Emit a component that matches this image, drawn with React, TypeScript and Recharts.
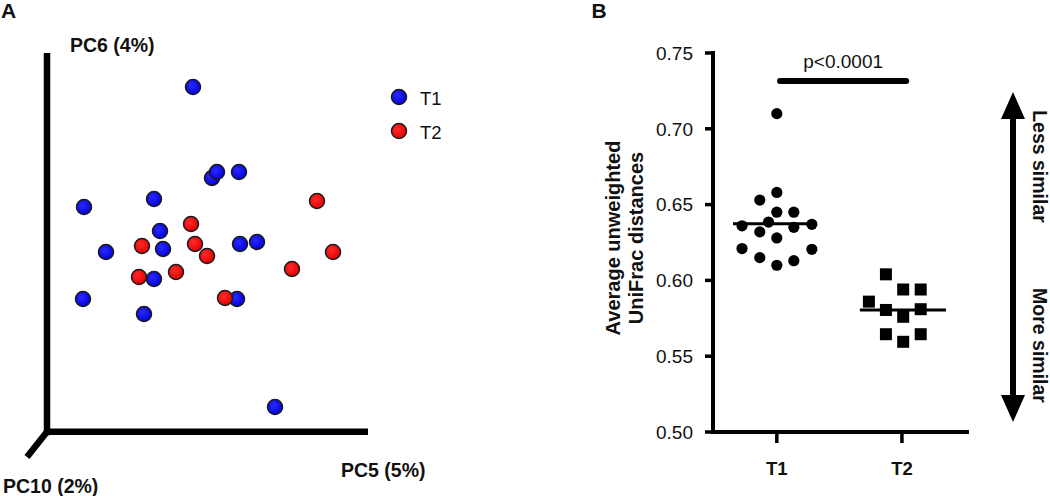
import React from 'react';
import { ScatterChart, Scatter, XAxis, YAxis, ReferenceLine, Legend } from 'recharts';

const FONT = '"Liberation Sans", Arial, Helvetica, sans-serif';

// ---------- Panel A: PCoA coordinates (PC5 horizontal, PC6 vertical) ----------
const t1PC5 = [-0.007, 0.012, 0.017, 0.039, -0.116, -0.046, -0.040, -0.094, -0.037, 0.040, 0.057, -0.046, -0.117, 0.037, -0.056, 0.075];
const t1PC6 = [0.163, 0.072, 0.078, 0.078, 0.043, 0.051, 0.019, -0.002, 0.001, 0.006, 0.008, -0.029, -0.049, -0.049, -0.064, -0.157];
const t2PC5 = [0.117, -0.009, -0.058, -0.005, 0.007, 0.133, -0.061, -0.024, 0.092, 0.025];
const t2PC6 = [0.049, 0.026, 0.004, 0.006, -0.006, -0.002, -0.027, -0.022, -0.019, -0.048];
const axisLabelsA = { pcY: 'PC6 (4%)', pcX: 'PC5 (5%)', pcZ: 'PC10 (2%)' };

// ---------- Panel B: average unweighted UniFrac distances ----------
const groups = ['T1', 'T2'];
const t1Distances = [0.710, 0.658, 0.653, 0.645, 0.645, 0.6385, 0.636, 0.637, 0.635, 0.632, 0.628, 0.621, 0.6205, 0.615, 0.610, 0.613];
const t1Jitter = [0, 0, -0.136, 0, 0.136, -0.066, -0.278, 0.28, 0.136, -0.136, 0, -0.278, 0.28, -0.136, 0, 0.136];
const t2Distances = [0.604, 0.594, 0.594, 0.586, 0.5805, 0.576, 0.581, 0.5645, 0.5595, 0.5645];
const t2Jitter = [-0.128, 0.01, 0.15, -0.264, -0.128, 0.01, 0.15, -0.128, 0.01, 0.15];
const yTicks = [0.5, 0.55, 0.6, 0.65, 0.7, 0.75];
const pLabel = 'p<0.0001';
const sigY = 0.7315;

const mean = (a: number[]) => a.reduce((s, v) => s + v, 0) / a.length;

const dataA1 = t1PC5.map((x, i) => ({ x, y: t1PC6[i] }));
const dataA2 = t2PC5.map((x, i) => ({ x, y: t2PC6[i] }));
const dataB1 = t1Distances.map((y, i) => ({ x: 1 + t1Jitter[i], y }));
const dataB2 = t2Distances.map((y, i) => ({ x: 2 + t2Jitter[i], y }));
const mean1 = mean(t1Distances);
const mean2 = mean(t2Distances);

const BallShape = (fill: string) => (props: any) => (
  <circle cx={props.cx} cy={props.cy} r={7.5} fill={fill} stroke="#1a1a1a" strokeWidth={1.5} />
);
const DotShape = (props: any) => <circle cx={props.cx} cy={props.cy} r={5.6} fill="#000" />;
const SquareShape = (props: any) => (
  <rect x={props.cx - 6} y={props.cy - 6} width={12} height={12} fill="#000" />
);

const LegendContent = () => (
  <svg width={80} height={62}>
    <circle cx={11} cy={12} r={7.5} fill="url(#gBlue)" stroke="#1a1a1a" strokeWidth={1.5} />
    <text x={32} y={20} fontSize={18.5} fontFamily={FONT} fill="#111">{groups[0]}</text>
    <circle cx={11} cy={46} r={7.5} fill="url(#gRed)" stroke="#1a1a1a" strokeWidth={1.5} />
    <text x={32} y={53.5} fontSize={18.5} fontFamily={FONT} fill="#111">{groups[1]}</text>
  </svg>
);

export default function App() {
  // axis frame of panel A in data units
  const ax = -0.153, top = 0.197, ay = -0.1817, right = 0.168;
  return (
    <div style={{ position: 'absolute', left: 0, top: 0, width: 1050, height: 496, background: '#fff', overflow: 'hidden', fontFamily: FONT }}>
      <svg width={0} height={0} style={{ position: 'absolute' }}>
        <defs>
          <radialGradient id="gBlue" cx="40%" cy="38%" r="65%">
            <stop offset="0%" stopColor="#2a2aff" />
            <stop offset="100%" stopColor="#0000d8" />
          </radialGradient>
          <radialGradient id="gRed" cx="40%" cy="38%" r="65%">
            <stop offset="0%" stopColor="#ff2a2a" />
            <stop offset="100%" stopColor="#e00000" />
          </radialGradient>
        </defs>
      </svg>

      {/* Panel A */}
      <div style={{ position: 'absolute', left: 0, top: 0 }}>
        <ScatterChart width={480} height={496} margin={{ top: 0, right: 0, bottom: 0, left: 0 }}>
          <XAxis type="number" dataKey="x" domain={[-0.2, 0.28]} hide allowDataOverflow />
          <YAxis type="number" dataKey="y" domain={[-0.246, 0.25]} hide allowDataOverflow />
          <ReferenceLine segment={[{ x: ax, y: top }, { x: ax, y: ay - 0.0035 }]} stroke="#000" strokeWidth={6.5} ifOverflow="visible" />
          <ReferenceLine segment={[{ x: ax - 0.003, y: ay }, { x: right, y: ay }]} stroke="#000" strokeWidth={6.5} ifOverflow="visible" />
          <ReferenceLine segment={[{ x: ax, y: ay }, { x: -0.173, y: -0.207 }]} stroke="#000" strokeWidth={6.5} ifOverflow="visible" />
          <Scatter name={groups[0]} data={dataA1} fill="#0000ff" shape={BallShape('url(#gBlue)')} isAnimationActive={false} />
          <Scatter name={groups[1]} data={dataA2} fill="#ff0000" shape={BallShape('url(#gRed)')} isAnimationActive={false} />
          <Legend layout="horizontal" align="center" verticalAlign="middle" content={LegendContent}
            wrapperStyle={{ left: 388, top: 85, width: 80, height: 62 }} />
        </ScatterChart>
      </div>

      {/* Panel B */}
      <div style={{ position: 'absolute', left: 600, top: 0 }}>
        <ScatterChart width={450} height={496} margin={{ top: 53, right: 83, bottom: 0, left: 0 }}>
          <XAxis type="number" dataKey="x" domain={[0.49, 2.52]} ticks={[1, 2]} allowDataOverflow
            tickFormatter={(v: number) => groups[Math.round(v) - 1]} height={64}
            axisLine={{ stroke: '#000', strokeWidth: 4, strokeLinecap: 'square' }}
            tickLine={{ stroke: '#000', strokeWidth: 3.5 }} tickSize={11} tickMargin={19}
            tick={{ fill: '#111', fontSize: 18.5, fontWeight: 700, fontFamily: FONT }} />
          <YAxis type="number" dataKey="y" domain={[0.5, 0.75]} ticks={yTicks} width={113} allowDataOverflow
            tickFormatter={(v: number) => v.toFixed(2)}
            axisLine={{ stroke: '#000', strokeWidth: 4, strokeLinecap: 'square' }}
            tickLine={{ stroke: '#000', strokeWidth: 3.5 }} tickSize={8} tickMargin={12}
            tick={{ fill: '#111', fontSize: 19, fontFamily: FONT }} />
          <Scatter name={groups[0]} data={dataB1} fill="#000" shape={DotShape} isAnimationActive={false} />
          <Scatter name={groups[1]} data={dataB2} fill="#000" shape={SquareShape} isAnimationActive={false} />
          <ReferenceLine segment={[{ x: 1 - 0.35, y: mean1 }, { x: 1 + 0.32, y: mean1 }]} stroke="#000" strokeWidth={3} />
          <ReferenceLine segment={[{ x: 2 - 0.336, y: mean2 }, { x: 2 + 0.352, y: mean2 }]} stroke="#000" strokeWidth={3} />
          <ReferenceLine segment={[{ x: 1.026, y: sigY }, { x: 2.034, y: sigY }]} stroke="#000" strokeWidth={6} strokeLinecap="round"
            label={{ value: pLabel, position: 'top', offset: 13, fill: '#111', fontSize: 19, fontFamily: FONT }} />
        </ScatterChart>
      </div>

      {/* Annotations */}
      <svg width={1050} height={496} style={{ position: 'absolute', left: 0, top: 0, pointerEvents: 'none' }}>
        <g fontFamily={FONT} fontWeight={700} fill="#111">
          <text x={1} y={18.3} fontSize={21}>A</text>
          <text x={591.5} y={18.3} fontSize={21}>B</text>
          <text x={70} y={52} fontSize={19.5}>{axisLabelsA.pcY}</text>
          <text x={341} y={476.5} fontSize={19.5}>{axisLabelsA.pcX}</text>
          <text x={3} y={493} fontSize={19.5}>{axisLabelsA.pcZ}</text>
          <text transform="translate(620,238) rotate(-90)" textAnchor="middle" fontSize={20}>Average unweighted</text>
          <text transform="translate(642.5,238) rotate(-90)" textAnchor="middle" fontSize={20}>UniFrac distances</text>
          <text transform="translate(1033,166.5) rotate(90)" textAnchor="middle" fontSize={19.5}>Less similar</text>
          <text transform="translate(1033,345.5) rotate(90)" textAnchor="middle" fontSize={19.5}>More similar</text>
        </g>
        <line x1={1013} y1={115} x2={1013} y2={398} stroke="#000" strokeWidth={6} />
        <polygon points="1013,92 1001,119 1025,119" fill="#000" />
        <polygon points="1013,422 1001,395 1025,395" fill="#000" />
      </svg>
    </div>
  );
}
